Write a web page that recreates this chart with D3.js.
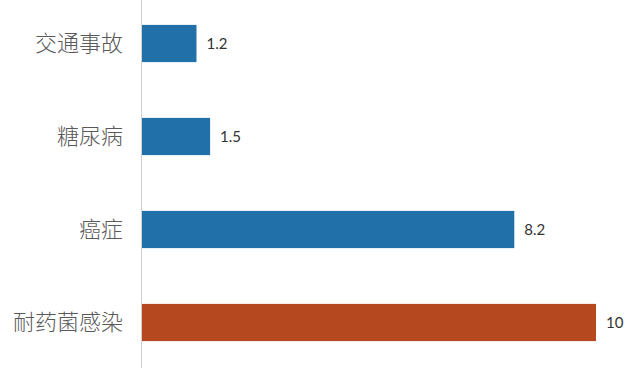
<!DOCTYPE html>
<html>
<head>
<meta charset="utf-8">
<script src="https://cdn.jsdelivr.net/npm/d3@7"></script>
<style>
  body { margin: 0; background: #fff; }
</style>
</head>
<body>
<div id="chart"></div>
<script>
var categories = ['交通事故', '糖尿病', '癌症', '耐药菌感染'];
var values = [1.2, 1.5, 8.2, 10];
var highlighted = ['耐药菌感染'];

var width = 640, height = 371;
var axisX = 141.5;

var svg = d3.select('#chart').append('svg')
    .attr('width', width)
    .attr('height', height);

var x = d3.scaleLinear().domain([0, 10]).range([axisX + 0.5, 596]);
var y = d3.scaleBand().domain(categories).range([-3, 369])
    .paddingInner(0.6).paddingOuter(0.3);

var rows = categories.map(function (c, i) { return {name: c, value: values[i]}; });

svg.append('g').selectAll('rect')
    .data(rows)
    .enter().append('rect')
    .attr('x', x(0))
    .attr('y', function (d) { return y(d.name); })
    .attr('width', function (d) { return x(d.value) - x(0); })
    .attr('height', y.bandwidth())
    .attr('fill', function (d) {
        return highlighted.indexOf(d.name) >= 0 ? '#B5481F' : '#2170A9';
    });

// axis line only, no ticks
svg.append('line')
    .attr('x1', axisX).attr('x2', axisX)
    .attr('y1', 0).attr('y2', 368)
    .attr('stroke', '#d0d0d0')
    .attr('stroke-width', 1);

svg.append('g').selectAll('text')
    .data(rows)
    .enter().append('text')
    .attr('x', 123)
    .attr('y', function (d) { return y(d.name) + y.bandwidth() / 2; })
    .attr('dy', '0.36em')
    .attr('text-anchor', 'end')
    .attr('font-family', '"Noto Sans CJK SC", sans-serif')
    .attr('font-size', '22px')
    .attr('font-weight', 300)
    .attr('fill', '#595959')
    .text(function (d) { return d.name; });

svg.append('g').selectAll('text')
    .data(rows)
    .enter().append('text')
    .attr('x', function (d) { return x(d.value) + 10; })
    .attr('y', function (d) { return y(d.name) + y.bandwidth() / 2; })
    .attr('dy', '0.36em')
    .attr('font-family', 'Lato, "Open Sans", sans-serif')
    .attr('font-size', '15px')
    .attr('fill', '#333')
    .text(function (d) { return d.value; });
</script>
</body>
</html>
